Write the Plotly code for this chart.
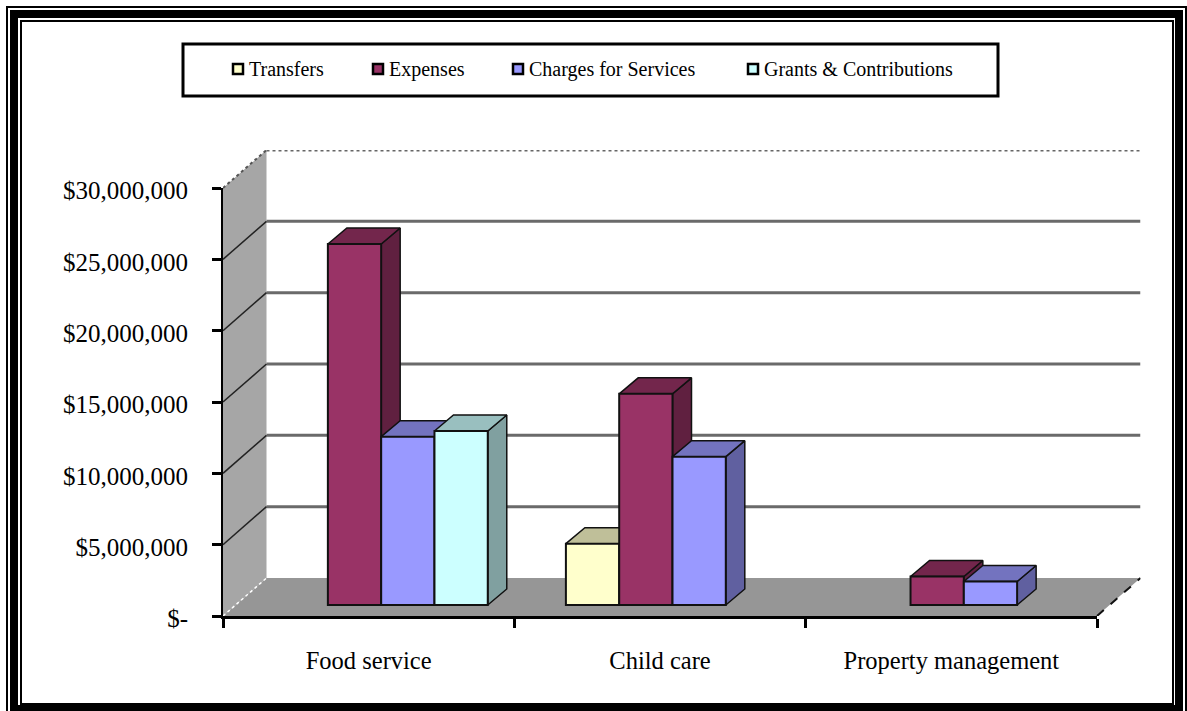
import plotly.graph_objects as go

W, H = 1187, 711

categories = ["Food service", "Child care", "Property management"]
series_names = ["Transfers", "Expenses", "Charges for Services", "Grants & Contributions"]
transfers = [None, 4300000, None]
expenses = [25300000, 14800000, 2000000]
charges = [11800000, 10400000, 1650000]
grants = [12200000, None, None]
series_values = [transfers, expenses, charges, grants]

y_ticks = [0, 5000000, 10000000, 15000000, 20000000, 25000000, 30000000]
y_labels = ["$-", "$5,000,000", "$10,000,000", "$15,000,000", "$20,000,000", "$25,000,000", "$30,000,000"]

front_colors = ["#FFFFCC", "#993366", "#9999FF", "#CCFFFF"]
top_colors = ["#BFBF99", "#73264C", "#7373BF", "#99BFBF"]
side_colors = ["#A0A080", "#602040", "#6060A0", "#80A0A0"]

# ---- pixel layout of the pseudo-3D box
AX_L, AX_R, AX_B, AX_T = 223.0, 1097.0, 616.0, 188.0
DEPTH_X, DEPTH_Y = 43.5, 38.0
BAR_DX, BAR_DY = 19.0, 16.0
SHIFT_X, SHIFT_Y = 12.5, 11.0
BAR_W = 53.3
LABEL_DROP = 2.5

px_per_cat = (AX_R - AX_L) / len(categories)
px_per_val = (AX_B - AX_T) / y_ticks[-1]
ux = lambda p: p / px_per_cat
uy = lambda p: p / px_per_val

x0, x1 = -0.5, len(categories) - 0.5
y_max = y_ticks[-1]
dx, dy = ux(DEPTH_X), uy(DEPTH_Y)
scene_x = [x0, x1 + dx]
scene_y = [0, y_max + dy]
bar_group = 4 * BAR_W / px_per_cat

fig = go.Figure()


def poly(xs, ys, fill, line="rgba(0,0,0,0)", width=0):
    fig.add_trace(go.Scatter(x=xs, y=ys, mode="lines", fill="toself", fillcolor=fill,
                             line=dict(color=line, width=width), hoverinfo="skip",
                             showlegend=False, xaxis="x", yaxis="y"))


def seg(xs, ys, color, width, dash="solid"):
    fig.add_trace(go.Scatter(x=xs, y=ys, mode="lines", line=dict(color=color, width=width, dash=dash),
                             hoverinfo="skip", showlegend=False, xaxis="x", yaxis="y"))


# walls and floor
poly([x0, x0 + dx, x0 + dx, x0], [0, dy, y_max + dy, y_max], "#A6A6A6")
poly([x0, x0 + dx, x1 + dx, x1], [0, dy, dy, 0], "#969696")

# gridlines: back wall and left wall
for t in y_ticks[1:-1]:
    seg([x0 + dx, x1 + dx], [t + dy, t + dy], "#6A6A6A", 3)
    seg([x0, x0 + dx], [t, t + dy], "#222222", 1.5)
seg([x0 + dx, x1 + dx], [y_max + dy, y_max + dy], "#666666", 3, "dot")
seg([x0, x0 + dx], [y_max, y_max + dy], "#555555", 2, "dot")
seg([x0, x0 + dx], [0, dy], "#FFFFFF", 1.5, "dot")
seg([x1, x1 + dx], [0, dy], "#111111", 2, "dash")

# bar depth faces, painted left to right
bdx, bdy = ux(BAR_DX), uy(BAR_DY)
sx, sy = ux(SHIFT_X), uy(SHIFT_Y)
bw = ux(BAR_W)
for c in range(len(categories)):
    for s, vals in enumerate(series_values):
        v = vals[c]
        if v is None:
            continue
        l = c + sx + (s - 2) * bw
        r = l + bw
        poly([r, r + bdx, r + bdx, r, r], [sy, sy + bdy, sy + v + bdy, sy + v, sy],
             side_colors[s], "#111111", 1.5)
        poly([l, r, r + bdx, l + bdx, l], [sy + v, sy + v, sy + v + bdy, sy + v + bdy, sy + v],
             top_colors[s], "#111111", 1.5)

# bar fronts
for s, vals in enumerate(series_values):
    fig.add_trace(go.Bar(x=list(range(len(categories))), y=vals, name=series_names[s],
                         marker=dict(color=front_colors[s], line=dict(color="#111111", width=2)),
                         xaxis="x2", yaxis="y2", showlegend=False))

# axis carriers: one for ticks and axis lines, one for the value labels
fig.add_trace(go.Scatter(x=categories, y=[0, 0, 0], mode="markers", marker=dict(opacity=0, size=1),
                         hoverinfo="skip", showlegend=False, xaxis="x3", yaxis="y3"))
fig.add_trace(go.Scatter(x=categories, y=[0, 0, 0], mode="markers", marker=dict(opacity=0, size=1),
                         hoverinfo="skip", showlegend=False, xaxis="x3", yaxis="y4"))

scene_dom_x = [AX_L / W, (AX_R + DEPTH_X) / W]
scene_dom_y = [(H - AX_B) / H, (H - AX_T + DEPTH_Y) / H]

hidden = dict(visible=False, showgrid=False, zeroline=False, fixedrange=True)
value_font = dict(family="Liberation Serif", size=25, color="#000000")
cat_font = dict(family="Liberation Serif", size=24.5, color="#000000")

shapes = []
# decorative frame: thin, thick, thin (left, top, right, bottom, width in px)
frame = [(7, 7, 1186, 716, 2), (14, 14, 1179, 709, 8), (21, 21, 1173, 704, 2)]
for fl, ft, fr, fb, w in frame:
    shapes.append(dict(type="rect", xref="paper", yref="paper",
                       x0=fl / W, x1=fr / W, y0=1 - fb / H, y1=1 - ft / H,
                       line=dict(color="#000000", width=w), layer="below"))

# legend box
LEG_L, LEG_R, LEG_T, LEG_B = 183, 998, 44, 96
shapes.append(dict(type="rect", xref="paper", yref="paper", x0=LEG_L / W, x1=LEG_R / W,
                   y0=1 - LEG_B / H, y1=1 - LEG_T / H, line=dict(color="#000000", width=3),
                   fillcolor="#FFFFFF"))
legend_x = [233, 373, 513, 748]
LEG_Y = 69
annotations = []
for s, name in enumerate(series_names):
    lx = legend_x[s]
    shapes.append(dict(type="rect", xref="paper", yref="paper", x0=lx / W, x1=(lx + 10) / W,
                       y0=1 - (LEG_Y + 5) / H, y1=1 - (LEG_Y - 5) / H, fillcolor=front_colors[s],
                       line=dict(color="#000000", width=2.5)))
    annotations.append(dict(xref="paper", yref="paper", x=(lx + 14) / W, y=1 - LEG_Y / H,
                            text=name, showarrow=False, xanchor="left", yanchor="middle",
                            font=dict(family="Liberation Serif", size=20, color="#000000")))

fig.update_layout(
    width=W, height=H, margin=dict(l=0, r=0, t=0, b=0, pad=0, autoexpand=False), paper_bgcolor="#FFFFFF",
    plot_bgcolor="rgba(0,0,0,0)", barmode="group", bargap=1 - bar_group, bargroupgap=0,
    showlegend=False, shapes=shapes, annotations=annotations,
    xaxis=dict(domain=scene_dom_x, range=scene_x, anchor="y", **hidden),
    yaxis=dict(domain=scene_dom_y, range=scene_y, anchor="x", **hidden),
    xaxis2=dict(overlaying="x", range=[scene_x[0] - sx, scene_x[1] - sx], anchor="y2", **hidden),
    yaxis2=dict(overlaying="y", range=[scene_y[0] - sy, scene_y[1] - sy], anchor="x2", **hidden),
    xaxis3=dict(domain=[AX_L / W, AX_R / W], anchor="y3", type="category",
                categoryorder="array", categoryarray=categories, range=[x0, x1],
                tickson="boundaries", ticks="outside", ticklen=9, tickwidth=2.5, tickcolor="#000000",
                showline=True, linecolor="#000000", linewidth=2.5, showgrid=False, zeroline=False,
                tickfont=cat_font, fixedrange=True, ticklabelstandoff=21),
    yaxis3=dict(domain=[(H - AX_B) / H, (H - AX_T) / H], anchor="x3", range=[0, y_max],
                tickmode="array", tickvals=y_ticks, showticklabels=False,
                ticks="outside", ticklen=9, tickwidth=2.5, tickcolor="#000000",
                showline=True, linecolor="#000000", linewidth=1.5, showgrid=False, zeroline=False,
                fixedrange=True),
    yaxis4=dict(domain=[(H - AX_B - LABEL_DROP) / H, (H - AX_T - LABEL_DROP) / H], anchor="x3",
                range=[0, y_max], tickmode="array", tickvals=y_ticks, ticktext=y_labels,
                ticks="outside", ticklen=9, tickcolor="rgba(0,0,0,0)",
                showline=False, showgrid=False, zeroline=False,
                tickfont=value_font, fixedrange=True, ticklabelstandoff=20),
)

fig.write_html("out.html", config=dict(displayModeBar=False),
               post_script="document.body.style.margin='0';document.documentElement.style.overflow='hidden';")
